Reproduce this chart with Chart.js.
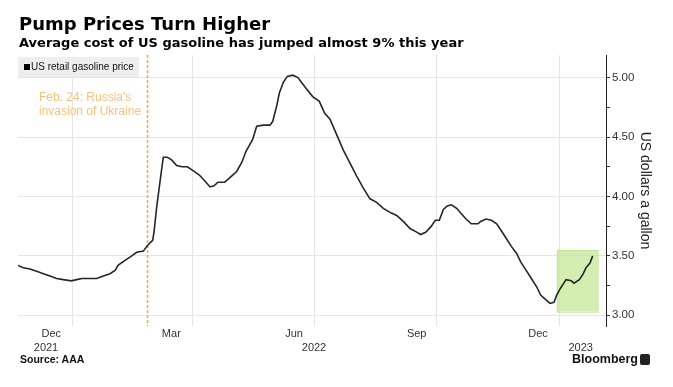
<!DOCTYPE html>
<html>
<head>
<meta charset="utf-8">
<script src="https://cdn.jsdelivr.net/npm/chart.js@4/dist/chart.umd.min.js"></script>
<style>
  html, body { margin: 0; padding: 0; background: #fff; }
  #wrap { position: relative; width: 673px; height: 387px; overflow: hidden; font-family: "Liberation Sans", Arial, sans-serif; }
  #chart { position: absolute; left: 0; top: 0; }
  .title { position: absolute; left: 19px; top: 15px; font: bold 18px/18px "DejaVu Sans"; color: #000; white-space: nowrap; }
  .sub { position: absolute; left: 19px; top: 36px; font: bold 13px/13px "DejaVu Sans"; color: #000; white-space: nowrap; }
  .legend { position: absolute; left: 18px; top: 57px; width: 121px; height: 20px; background: #eeeeee; font-size: 10px; line-height: 20px; color: #111; white-space: nowrap; }
  .legend i { display: inline-block; width: 6px; height: 6px; background: #000; margin: 0 1px 0 6px; vertical-align: 0px; }
  .note { position: absolute; left: 39px; top: 91px; font-size: 12px; line-height: 13.5px; color: #f6c27a; white-space: nowrap; }
  .source { position: absolute; left: 20px; top: 352px; font: bold 10.5px/14px "Liberation Sans"; color: #111; }
  .brand { position: absolute; left: 572px; top: 351px; font: bold 12.5px/16px "Liberation Sans"; color: #111; }
  .logo { position: absolute; left: 640px; top: 354px; width: 10px; height: 11px; background: #222; border-radius: 2px; }
</style>
</head>
<body>
<div id="wrap">
  <canvas id="chart" width="673" height="387"></canvas>
  <div class="title">Pump Prices Turn Higher</div>
  <div class="sub">Average cost of US gasoline has jumped almost 9% this year</div>
  <div class="legend"><i></i>US retail gasoline price</div>
  <div class="note">Feb. 24: Russia's<br>invasion of Ukraine</div>
  <div class="source">Source: AAA</div>
  <div class="brand">Bloomberg</div>
  <div class="logo"></div>
</div>
<script>
// days counted from Jan 1, 2022 (negative = late 2021)
let days = [-41, -37, -32, -27, -22, -17, -12, -7, -1, 3, 7, 13, 18, 23, 28, 32, 34, 39, 43, 48,
    53, 55, 58, 60, 61, 63, 65, 67, 68, 71, 74, 78, 82, 86, 90, 95, 100, 103, 106, 109,
    114, 116, 120, 123, 127, 130, 135, 138, 143, 148, 150, 153, 155, 158, 161, 165, 169, 171, 175, 180,
    185, 189, 193, 198, 203, 208, 213, 218, 223, 228, 233, 239, 243, 248, 253, 258, 261, 265, 269, 272,
    275, 278, 281, 284, 288, 291, 295, 299, 304, 306, 310, 314, 318, 321, 325, 329, 333, 336, 340, 344,
    348, 351, 355, 358, 361, 363, 366, 370, 374, 376, 380, 383, 385, 388, 390]

// US retail gasoline price, dollars a gallon
let prices = [3.42, 3.40, 3.39, 3.37, 3.35, 3.33, 3.31, 3.30, 3.29, 3.30, 3.31, 3.31, 3.31, 3.33, 3.35, 3.38, 3.42, 3.46, 3.49, 3.53,
    3.54, 3.57, 3.61, 3.63, 3.70, 3.91, 4.08, 4.25, 4.33, 4.33, 4.31, 4.26, 4.25, 4.25, 4.22, 4.18, 4.12, 4.08, 4.09, 4.12,
    4.12, 4.14, 4.18, 4.21, 4.29, 4.38, 4.48, 4.59, 4.60, 4.60, 4.63, 4.76, 4.87, 4.96, 5.01, 5.02, 5.00, 4.97, 4.91, 4.84,
    4.80, 4.70, 4.65, 4.52, 4.39, 4.28, 4.17, 4.07, 3.98, 3.95, 3.90, 3.86, 3.84, 3.79, 3.73, 3.70, 3.68, 3.70, 3.75, 3.80,
    3.80, 3.89, 3.92, 3.93, 3.90, 3.86, 3.81, 3.77, 3.77, 3.79, 3.81, 3.80, 3.77, 3.72, 3.65, 3.58, 3.52, 3.45, 3.38, 3.31,
    3.24, 3.17, 3.13, 3.10, 3.11, 3.17, 3.23, 3.30, 3.29, 3.27, 3.30, 3.35, 3.40, 3.44, 3.50]

let gridDays = [0, 90, 181, 273, 365]          // Jan 1, Apr 1, Jul 1, Oct 1, Jan 1
let monthDays = [-16, 74, 166, 258, 349]       // mid Dec, Mar, Jun, Sep, Dec
let monthLabels = ['Dec', 'Mar', 'Jun', 'Sep', 'Dec']
let yearDays = [-20, 181, 381]
let yearLabels = ['2021', '2022', '2023']
let yTicks = [3.00, 3.25, 3.50, 3.75, 4.00, 4.25, 4.50, 4.75, 5.00]

let invasionDay = 56
let boxDays = [363, 394]
let boxPrices = [3.03, 3.55]

let labelMap = {}
monthDays.forEach(function(d, i) { labelMap[d] = [monthLabels[i], ''] })
yearDays.forEach(function(d, i) { labelMap[d] = ['', yearLabels[i]] })

let points = days.map(function(d, i) { return { x: d, y: prices[i] } })

const marks = {
    id: 'marks',
    beforeDatasetsDraw(chart) {
        const { ctx, chartArea, scales } = chart
        const x = scales.x, y = scales.y
        ctx.save()
        // highlighted box for 2023
        let bx0 = x.getPixelForValue(boxDays[0]), bx1 = x.getPixelForValue(boxDays[1])
        let by0 = y.getPixelForValue(boxPrices[1]), by1 = y.getPixelForValue(boxPrices[0])
        ctx.fillStyle = 'rgba(196, 232, 150, 0.75)'
        ctx.fillRect(bx0, by0, bx1 - bx0, by1 - by0)
        ctx.strokeStyle = '#b2da82'
        ctx.lineWidth = 1
        ctx.setLineDash([1, 1])
        ctx.strokeRect(Math.round(bx0) + 0.5, Math.round(by0) + 0.5, Math.round(bx1 - bx0), Math.round(by1 - by0))
        // invasion marker
        let ox = Math.round(x.getPixelForValue(invasionDay)) + 0.5
        ctx.strokeStyle = '#f5a640'
        ctx.lineWidth = 1.5
        ctx.setLineDash([3, 2])
        ctx.beginPath()
        ctx.moveTo(ox, chartArea.top)
        ctx.lineTo(ox, chartArea.bottom)
        ctx.stroke()
        ctx.restore()
    }
}

var ctx = document.getElementById('chart').getContext('2d')
var chart = new Chart(ctx, {
    type: 'line',
    data: {
        datasets: [{
            label: 'US retail gasoline price',
            data: points,
            borderColor: '#262626',
            borderWidth: 1.6,
            pointRadius: 0,
            fill: false,
            tension: 0
        }]
    },
    options: {
        responsive: false,
        animation: false,
        devicePixelRatio: 1,
        layout: { padding: { left: 18, top: 55, right: 0, bottom: 0 } },
        plugins: { legend: { display: false }, tooltip: { enabled: false } },
        scales: {
            x: {
                type: 'linear',
                min: -41,
                max: 400,
                afterBuildTicks: function(scale) {
                    let vals = gridDays.concat(monthDays, yearDays).filter(function(v, i, a) { return a.indexOf(v) == i })
                    scale.ticks = vals.sort(function(a, b) { return a - b }).map(function(v) { return { value: v } })
                },
                afterFit: function(scale) { scale.height = 61 },
                border: { display: false },
                grid: {
                    drawTicks: false,
                    color: function(c) { return c.tick && gridDays.indexOf(c.tick.value) >= 0 ? '#e6e6e6' : 'rgba(0,0,0,0)' }
                },
                ticks: {
                    autoSkip: false,
                    maxRotation: 0,
                    padding: 1,
                    color: '#333',
                    font: { family: 'Liberation Sans', size: 11, lineHeight: 1.3 },
                    callback: function(value) { return labelMap[value] || '' }
                }
            },
            y: {
                position: 'right',
                min: 2.91,
                max: 5.19,
                afterBuildTicks: function(scale) {
                    scale.ticks = yTicks.map(function(v) { return { value: v } })
                },
                afterFit: function(scale) { scale.width = 67 },
                border: { display: true, color: '#222', width: 1 },
                grid: {
                    tickLength: 4,
                    tickColor: '#333',
                    color: function(c) {
                        if (!c.tick) return 'rgba(0,0,0,0)'
                        return Math.abs(c.tick.value * 2 - Math.round(c.tick.value * 2)) < 0.001 ? '#e6e6e6' : 'rgba(0,0,0,0)'
                    }
                },
                ticks: {
                    padding: 2,
                    color: '#333',
                    font: { family: 'Liberation Sans', size: 11.5 },
                    callback: function(value) {
                        return Math.abs(value * 2 - Math.round(value * 2)) < 0.001 ? value.toFixed(2) : ''
                    }
                },
                title: {
                    display: true,
                    text: 'US dollars a gallon',
                    color: '#222',
                    font: { family: 'Liberation Sans', size: 14 },
                    padding: { top: 20, bottom: 0 }
                }
            }
        }
    },
    plugins: [marks]
})
</script>
</body>
</html>
